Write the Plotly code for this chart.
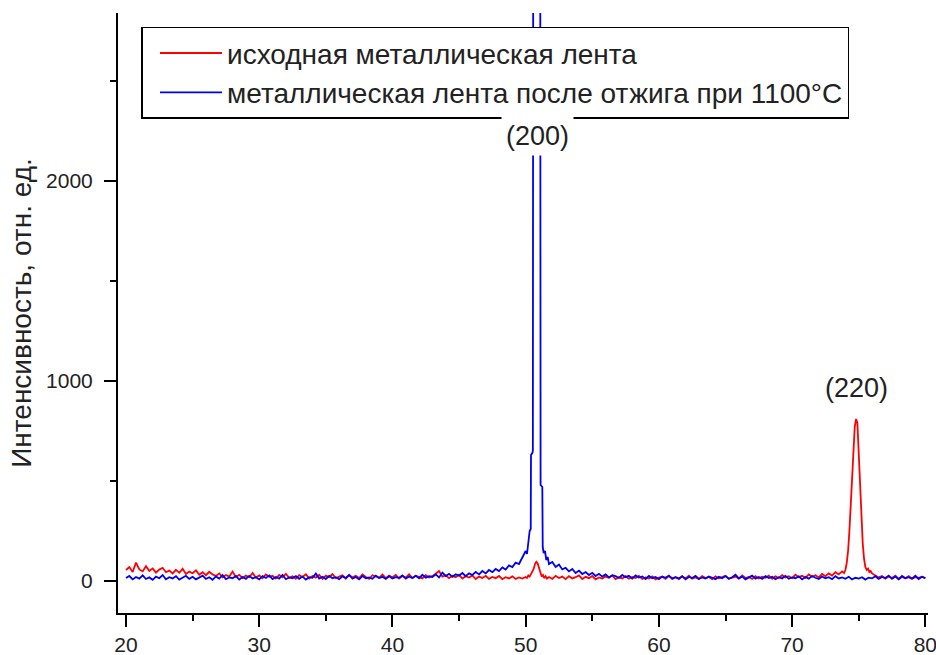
import plotly.graph_objects as go

# ---------------- data ----------------
series_names = ["исходная металлическая лента",
                "металлическая лента после отжига при 1100°C"]

two_theta_low = [
    20.0, 20.25, 20.5, 20.75, 21.0, 21.25, 21.5, 21.75, 22.0, 22.25,
    22.5, 22.75, 23.0, 23.25, 23.5, 23.75, 24.0, 24.25, 24.5, 24.75,
    25.0, 25.25, 25.5, 25.75, 26.0, 26.25, 26.5, 26.75, 27.0, 27.25,
    27.5, 27.75, 28.0, 28.25, 28.5, 28.75, 29.0, 29.25, 29.5, 29.75,
    30.0, 30.25, 30.5, 30.75, 31.0, 31.25, 31.5, 31.75, 32.0, 32.25,
    32.5, 32.75, 33.0, 33.25, 33.5, 33.75, 34.0, 34.25, 34.5, 34.75,
    35.0, 35.25, 35.5, 35.75, 36.0, 36.25, 36.5, 36.75, 37.0, 37.25,
    37.5, 37.75, 38.0, 38.25, 38.5, 38.75, 39.0, 39.25, 39.5, 39.75,
    40.0, 40.25, 40.5, 40.75, 41.0, 41.25, 41.5, 41.75, 42.0, 42.25,
    42.5, 42.75, 43.0, 43.25, 43.5, 43.75, 44.0, 44.25, 44.5, 44.75,
    45.0, 45.25, 45.5, 45.75, 46.0, 46.25, 46.5, 46.75, 47.0, 47.25,
    47.5, 47.75, 48.0, 48.25, 48.5, 48.75, 49.0, 49.25, 49.5, 49.75,
]

two_theta_mid = [
    51.75,
    52.0, 52.25, 52.5, 52.75, 53.0, 53.25, 53.5, 53.75, 54.0, 54.25,
    54.5, 54.75, 55.0, 55.25, 55.5, 55.75, 56.0, 56.25, 56.5, 56.75,
    57.0, 57.25, 57.5, 57.75, 58.0, 58.25, 58.5, 58.75, 59.0, 59.25,
    59.5, 59.75, 60.0, 60.25, 60.5, 60.75, 61.0, 61.25, 61.5, 61.75,
    62.0, 62.25, 62.5, 62.75, 63.0, 63.25, 63.5, 63.75, 64.0, 64.25,
    64.5, 64.75, 65.0, 65.25, 65.5, 65.75, 66.0, 66.25, 66.5, 66.75,
    67.0, 67.25, 67.5, 67.75, 68.0, 68.25, 68.5, 68.75, 69.0, 69.25,
    69.5, 69.75, 70.0, 70.25, 70.5, 70.75, 71.0, 71.25, 71.5, 71.75,
    72.0, 72.25, 72.5, 72.75, 73.0, 73.25, 73.5, 73.75,
]

two_theta_blue_tail = [
    74.0, 74.25, 74.5, 74.75, 75.0, 75.25, 75.5, 75.75, 76.0, 76.25,
    76.5, 76.75, 77.0, 77.25, 77.5, 77.75, 78.0, 78.25, 78.5, 78.75,
    79.0, 79.25, 79.5, 79.75, 80.0,
]

two_theta_red_tail = [
    76.25, 76.5, 76.75, 77.0, 77.25, 77.5, 77.75, 78.0, 78.25, 78.5,
    78.75, 79.0, 79.25, 79.5, 79.75, 80.0,
]

# red: initial ribbon
red_low = [
    55, 70, 45, 92, 58, 48, 74, 50, 63, 42,
    57, 66, 44, 52, 38, 56, 41, 61, 35, 47,
    39, 53, 31, 44, 29, 46, 33, 25, 38, 18,
    30, 22, 47, 20, 31, 15, 27, 19, 40, 17,
    28, 14, 33, 21, 26, 12, 30, 18, 36, 16,
    24, 11, 29, 20, 34, 13, 25, 17, 31, 10,
    27, 19, 35, 14, 22, 28, 12, 30, 18, 26,
    15, 33, 20, 11, 29, 23, 16, 32, 14, 27,
    19, 30, 12, 25, 17, 34, 15, 26, 21, 13,
    29, 18, 24, 37, 50, 22, 28, 14, 26, 19,
    31, 12, 24, 17, 28, 10, 22, 15, 26, 11,
    20, 14, 25, 9, 19, 13, 23, 10, 18, 12,
]
red_peak200_x = [50.0, 50.1, 50.2, 50.3, 50.4, 50.5, 50.6, 50.7, 50.8, 50.9,
                 51.0, 51.1, 51.2, 51.3, 51.4, 51.5, 51.6]
red_peak200_y = [20, 15, 28, 22, 35, 42, 60, 85, 96, 88,
                 62, 40, 22, 30, 14, 24, 12]
red_mid = [
    20,
    11, 26, 15, 22, 9, 24, 13, 19, 28, 10,
    21, 14, 25, 8, 18, 12, 22, 16, 27, 9,
    19, 13, 24, 11, 20, 15, 26, 10, 18, 12,
    23, 8, 17, 21, 11, 25, 14, 19, 9, 22,
    13, 27, 12, 18, 10, 24, 15, 20, 9, 23,
    14, 19, 26, 11, 17, 22, 12, 28, 15, 20,
    10, 24, 13, 21, 16, 27, 11, 23, 15, 29,
    18, 24, 14, 31, 19, 26, 16, 33, 21, 29,
    18, 35, 24, 38, 27, 44, 33, 48,
]
red_peak220_x = [73.9, 74.0, 74.1, 74.2, 74.3, 74.4, 74.5, 74.6, 74.7, 74.8,
                 74.9, 75.0, 75.1, 75.2, 75.3, 75.4, 75.5, 75.6, 75.7, 75.8,
                 75.9, 76.0]
red_peak220_y = [40, 55, 90, 150, 250, 380, 520, 650, 770, 810,
                 790, 640, 480, 330, 190, 110, 70, 55, 62, 45,
                 50, 38]
red_tail = [30, 18, 25, 12, 22, 15, 27, 10, 20, 14, 24, 11, 19, 16, 21, 13]

# blue: ribbon annealed at 1100 °C
blue_low = [
    15, 25, 8, 20, 12, 28, 10, 18, 6, 22,
    14, 30, 9, 19, 13, 24, 7, 17, 26, 11,
    21, 8, 16, 27, 10, 19, 6, 23, 12, 29,
    9, 18, 14, 25, 7, 20, 11, 26, 13, 19,
    8, 24, 15, 28, 10, 20, 12, 31, 9, 18,
    14, 25, 11, 22, 7, 19, 16, 37, 12, 21,
    10, 26, 14, 19, 9, 23, 15, 30, 12, 20,
    8, 25, 14, 18, 11, 27, 15, 21, 10, 24,
    13, 19, 16, 28, 12, 22, 15, 26, 14, 31,
    17, 24, 20, 33, 18, 42, 25, 36, 21, 34,
    27, 40, 24, 38, 30, 45, 33, 50, 38, 55,
    44, 60, 50, 68, 57, 78, 70, 92, 85, 120,
]
blue_peak200_x = [50.0, 50.1, 50.2, 50.3, 50.38, 50.4, 50.5, 50.54, 50.84,
                  51.12, 51.25, 51.28, 51.35, 51.45, 51.55, 51.65, 51.75]
blue_peak200_y = [150, 135, 190, 250, 260, 630, 640, 650, 30000,
                  480, 470, 170, 140, 150, 105, 120, 85]
blue_mid = [
    95, 70, 82, 58, 66, 48, 60, 40, 52, 35,
    45, 30, 41, 25, 36, 22, 33, 18, 29, 24,
    15, 30, 19, 26, 12, 28, 17, 23, 10, 25,
    14, 20, 9, 22, 16, 27, 11, 19, 13, 24,
    8, 20, 15, 26, 10, 18, 12, 23, 16, 9,
    21, 14, 25, 11, 19, 31, 13, 22, 8, 18,
    27, 12, 20, 10, 24, 15, 21, 9, 19, 13,
    26, 11, 18, 14, 23, 8, 20, 12, 25, 16,
    10, 22, 14, 19, 9, 24, 13, 18,
]
blue_tail = [
    11, 21, 8, 16, 12, 19, 7, 17, 13, 24,
    10, 20, 15, 27, 11, 22, 9, 25, 14, 19,
    12, 26, 10, 21, 15,
]

x_ticks = [20, 30, 40, 50, 60, 70, 80]
y_ticks = [0, 1000, 2000]
peak_labels = ["(200)", "(220)"]
peak_label_pos = [(50.88, 2225), (74.8, 965)]

# ---------------- assemble series ----------------
x_red = two_theta_low + red_peak200_x + two_theta_mid + red_peak220_x + two_theta_red_tail
y_red = red_low + red_peak200_y + red_mid + red_peak220_y + red_tail
x_blue = two_theta_low + blue_peak200_x + two_theta_mid[1:] + two_theta_blue_tail
y_blue = blue_low + blue_peak200_y + blue_mid + blue_tail

FONT = "Arial, 'Liberation Sans', sans-serif"
TXT = "#222222"

fig = go.Figure()
fig.add_trace(go.Scatter(x=x_red, y=y_red, mode="lines", name=series_names[0],
                         line=dict(color="#ff0000", width=1.8)))
fig.add_trace(go.Scatter(x=x_blue, y=y_blue, mode="lines", name=series_names[1],
                         line=dict(color="#0000ee", width=1.8)))

for txt, (px, py) in zip(peak_labels, peak_label_pos):
    fig.add_annotation(x=px, y=py, text=txt, showarrow=False,
                       font=dict(family=FONT, size=27, color=TXT),
                       bgcolor="white", borderpad=4)

axis_common = dict(showline=True, linecolor="black", linewidth=2,
                   ticks="outside", ticklen=12, tickwidth=2, tickcolor="black",
                   showgrid=False, zeroline=False, mirror=False,
                   automargin=False, ticklabeloverflow="allow",
                   tickfont=dict(family=FONT, size=21, color=TXT))

fig.update_xaxes(range=[19.4, 80.2], tickvals=x_ticks,
                 minor=dict(ticks="outside", ticklen=6, tickwidth=2,
                            tickcolor="black", dtick=5, tick0=20),
                 ticklabelstandoff=0,
                 **axis_common)
fig.update_yaxes(range=[-160, 2840], tickvals=y_ticks,
                 minor=dict(ticks="outside", ticklen=6, tickwidth=2,
                            tickcolor="black", dtick=500, tick0=0),
                 ticklabelstandoff=7,
                 title=dict(text="Интенсивность, отн. ед.",
                            font=dict(family=FONT, size=28, color=TXT),
                            standoff=6),
                 **axis_common)

fig.update_layout(
    width=936, height=655,
    margin=dict(l=118, r=8, t=13, b=42),
    paper_bgcolor="white", plot_bgcolor="white",
    showlegend=True,
    legend=dict(x=0.029, y=0.977, xanchor="left", yanchor="top",
                bgcolor="white", bordercolor="black", borderwidth=1.5,
                font=dict(family=FONT, size=28, color=TXT),
                itemwidth=62, indentation=12, tracegroupgap=0),
)

fig.write_html("out.html",
               config={"displayModeBar": False},
               post_script="document.body.style.margin='0';"
                           "document.body.style.overflow='hidden';")
